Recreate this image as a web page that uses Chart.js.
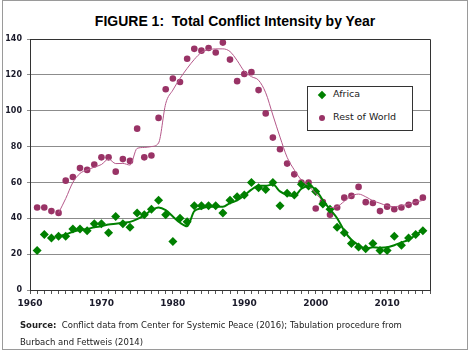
<!DOCTYPE html>
<html>
<head>
<meta charset="utf-8">
<script src="https://cdn.jsdelivr.net/npm/chart.js@4.4.1/dist/chart.umd.min.js"></script>
<style>
  html, body { margin: 0; padding: 0; background: #fff; }
  #wrap { position: relative; width: 470px; height: 352px; overflow: hidden; }
  #frame { position: absolute; left: 2px; top: 0; width: 464px; height: 348px; border: 1px solid #9a9a9a; }
  #title { position: absolute; left: 0; top: 13px; width: 470px; text-align: center;
           font: bold 14px "Liberation Sans", Arial, sans-serif; color: #000; }
  #chart { position: absolute; left: 0; top: 0; }
  #legend { position: absolute; left: 307px; top: 86px; width: 104px; height: 43px;
            border: 1px solid #333; background: #fff;
            font: 9.5px "DejaVu Sans", Verdana, sans-serif; color: #222; }
  .item { position: absolute; left: 25px; }
  .mk { position: absolute; }
  #source { position: absolute; left: 20px; top: 317px; width: 445px;
            font: 8.5px "DejaVu Sans", Verdana, sans-serif; color: #222; line-height: 17px; }
</style>
</head>
<body>
<div id="wrap">
  <div id="frame"></div>
  <div id="title">FIGURE 1:&nbsp; Total Conflict Intensity by Year</div>
  <canvas id="chart" width="470" height="352"></canvas>
  <div id="legend">
    <span class="mk" style="left:11px;top:5px;width:6px;height:6px;background:#008000;transform:rotate(45deg);"></span>
    <span class="item" style="top:1px;">Africa</span>
    <span class="mk" style="left:11px;top:28px;width:6px;height:6px;border-radius:3px;background:#993366;"></span>
    <span class="item" style="top:24px;">Rest of World</span>
  </div>
  <div id="source"><b>Source:</b>&nbsp; Conflict data from Center for Systemic Peace (2016); Tabulation procedure from<br>Burbach and Fettweis (2014)</div>
</div>
<script>
// yearly points, 1961-2015
const years = [];
for (let y = 1961; y <= 2015; y++) years.push(y);

const africa = [22, 31, 29, 30, 30, 34, 34, 33, 37, 37,
                32, 41, 37, 35, 43, 42, 45, 50, 42, 27,
                40, 38, 47, 47, 47, 47, 43, 50, 52, 53,
                60, 57, 56, 60, 47, 54, 53, 59, 58, 55,
                48, 45, 35, 32, 26, 24, 23, 26, 22, 22,
                30, 25, 29, 31, 33];

const restOfWorld = [46, 46, 44, 43, 61, 63, 68, 67, 70, 74,
                     74, 66, 73, 72, 90, 74, 75, 96, 112, 118,
                     116, 129, 134.5, 133.5, 135, 132.5, 138, 128.5, 116.5, 120.5,
                     121.5, 111.5, 98.5, 85, 78.5, 70.5, 64.5, 60, 60, 45.5,
                     49, 42, 46, 51.5, 52.5, 57.5, 49, 48.5, 44, 46.5,
                     45, 46, 47.5, 49, 51.5];

// smoothed trend lines, 1964-2015
const trendYears = [];
for (let y = 1964; y <= 2015; y++) trendYears.push(y);

const africaTrend = [30, 31, 32.5, 33.5, 34, 35, 35.6, 36.5, 37, 37.5,
                     38, 39.5, 41.6, 44.5, 46, 44.5, 41, 37.5, 35.5, 44,
                     45.5, 46.5, 46.5, 46.5, 48.5, 50, 52.7, 56, 58.2, 58.2,
                     58.8, 55, 53, 52.5, 56.5, 58, 56, 50, 45, 40,
                     33, 28, 25, 23, 23.8, 23.6, 23.8, 25, 26.5, 28,
                     30.7, 33.5];

const restTrend = [43, 51, 60, 65, 67, 68.5, 70, 73, 70.5, 70.6,
                   69.7, 79, 79.5, 80, 82, 104, 111.5, 118, 123.6, 128.6,
                   132.5, 134, 134.5, 134.5, 133, 128, 122, 119, 117, 110,
                   97.6, 85.3, 74, 67, 61.3, 58, 54, 49.5, 46, 46.5,
                   49.5, 52.4, 53.5, 52, 49.8, 48.4, 47, 46.5, 47, 48,
                   49, 50];

const yTicks = [0, 20, 40, 60, 80, 100, 120, 140];
const xLabels = [1960, 1970, 1980, 1990, 2000, 2010];

const pts = (xs, ys) => xs.map((x, i) => ({ x, y: ys[i] }));

// border on top and right of the plot area
const plotFrame = {
    id: 'plotFrame',
    afterDraw(chart) {
        const { ctx, chartArea: a } = chart;
        ctx.save();
        ctx.strokeStyle = '#333';
        ctx.lineWidth = 1;
        ctx.beginPath();
        ctx.moveTo(Math.round(a.left) + 0.5, Math.round(a.top) + 0.5);
        ctx.lineTo(Math.round(a.right) + 0.5, Math.round(a.top) + 0.5);
        ctx.lineTo(Math.round(a.right) + 0.5, Math.round(a.bottom) + 0.5);
        ctx.stroke();
        ctx.restore();
    }
};

new Chart(document.getElementById('chart'), {
    type: 'scatter',
    data: {
        datasets: [
            {
                label: 'Africa trend',
                data: pts(trendYears, africaTrend),
                showLine: true,
                borderColor: '#008000',
                borderWidth: 2,
                pointRadius: 0,
                cubicInterpolationMode: 'monotone',
                fill: false
            },
            {
                label: 'Rest of World trend',
                data: pts(trendYears, restTrend),
                showLine: true,
                borderColor: '#b5588a',
                borderWidth: 1,
                pointRadius: 0,
                cubicInterpolationMode: 'monotone',
                fill: false
            },
            {
                label: 'Africa',
                data: pts(years, africa),
                pointStyle: 'rectRot',
                pointRadius: 4.5,
                backgroundColor: '#008000',
                borderColor: '#008000',
                borderWidth: 0
            },
            {
                label: 'Rest of World',
                data: pts(years, restOfWorld),
                pointStyle: 'circle',
                pointRadius: 3.3,
                backgroundColor: '#993366',
                borderColor: '#993366',
                borderWidth: 0
            }
        ]
    },
    options: {
        responsive: false,
        animation: false,
        layout: { padding: { top: 39, right: 40, left: 0, bottom: 37 } },
        plugins: {
            legend: { display: false },
            tooltip: { enabled: false }
        },
        scales: {
            x: {
                type: 'linear',
                min: 1960,
                max: 2016,
                afterFit: s => { s.height = 25; },
                grid: { drawOnChartArea: false, drawTicks: true, tickLength: 4, color: '#555' },
                border: { color: '#333', width: 1 },
                ticks: {
                    stepSize: 1,
                    autoSkip: false,
                    maxRotation: 0,
                    padding: 4,
                    color: '#1a1a2a',
                    font: { family: 'DejaVu Sans', size: 9, weight: 'bold' },
                    callback: v => (xLabels.includes(v) ? String(v) : '')
                }
            },
            y: {
                min: yTicks[0],
                max: yTicks[yTicks.length - 1],
                afterFit: s => { s.width = 30; },
                afterBuildTicks: s => { s.ticks = yTicks.map(v => ({ value: v })); },
                grid: { color: '#8c8c8c', lineWidth: 1, tickLength: 3 },
                border: { color: '#333', width: 1 },
                ticks: {
                    padding: 5,
                    color: '#1a1a2a',
                    font: { family: 'DejaVu Sans', size: 8, weight: 'bold' }
                }
            }
        }
    },
    plugins: [plotFrame]
});
</script>
</body>
</html>
